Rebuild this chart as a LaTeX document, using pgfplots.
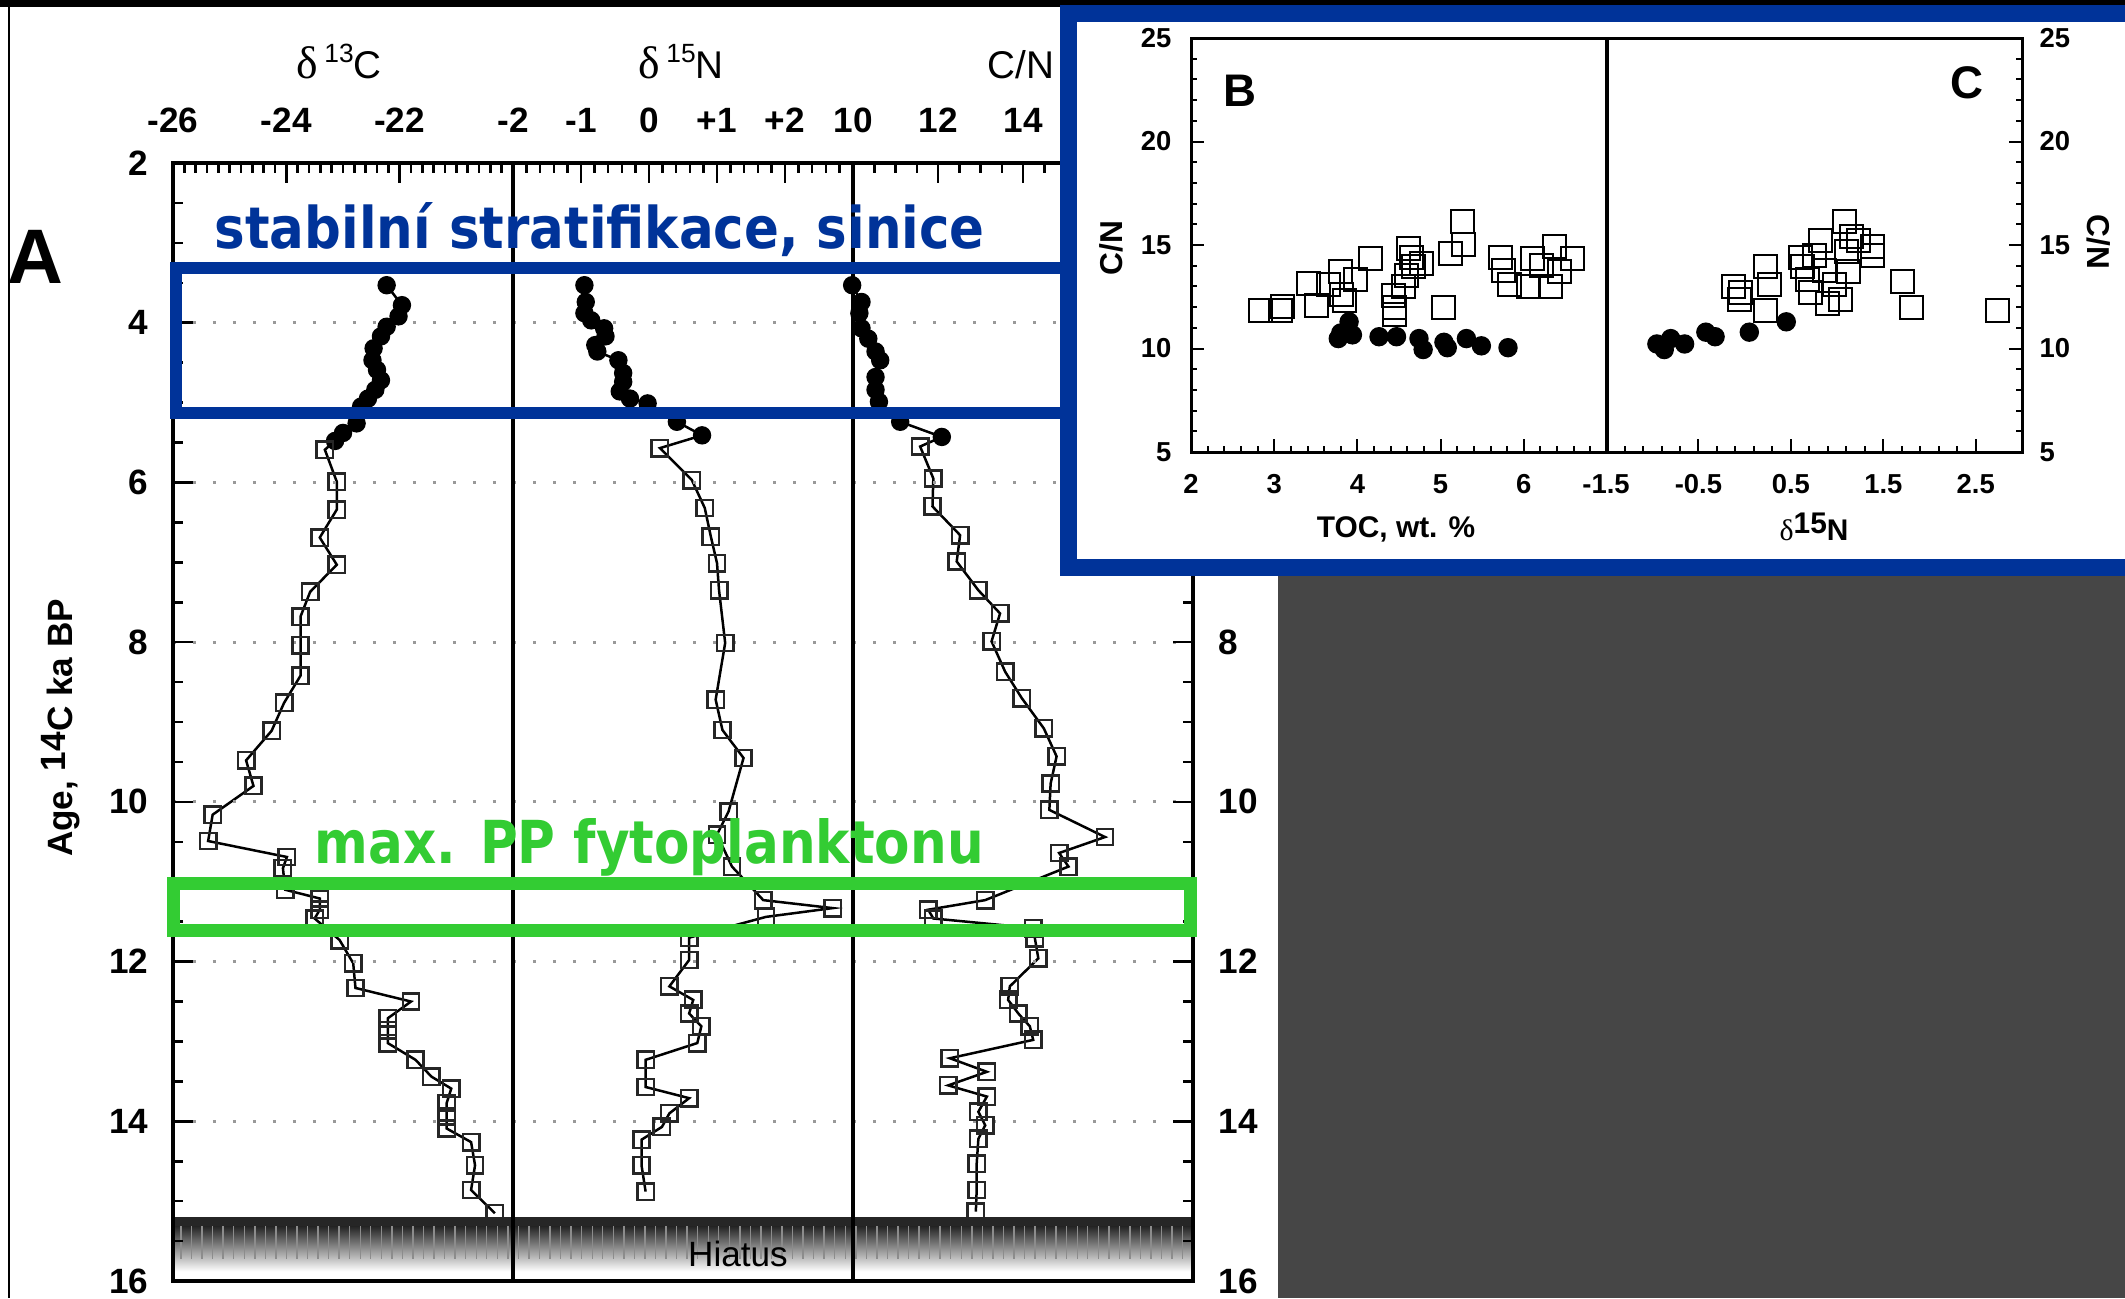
\documentclass[border=0pt]{standalone}
\usepackage{fontspec}
\setmainfont{Liberation Sans}
\newfontfamily\seriffont{Liberation Serif}
\newfontfamily\annfont{DejaVu Sans}
\usepackage{graphicx}
\usepackage{pgfplots}
\usetikzlibrary{patterns}
\pgfplotsset{compat=1.18}
\definecolor{ablue}{RGB}{0,51,153}
\definecolor{agreen}{RGB}{51,204,51}
\definecolor{dgray}{RGB}{70,70,70}
\newcommand{\tlA}{\fontsize{10}{12}\selectfont\bfseries}
\newcommand{\tlB}{\fontsize{7.8}{9}\selectfont\bfseries}
\pgfplotsset{
  panelA/.style={
    scale only axis, width=34mm, height=111.8mm, anchor=center,
    ymin=2, ymax=16, y dir=reverse, clip=false, axis on top,
    axis line style={line width=0.35mm, black},
    tick align=inside,
    xtick pos=right, xticklabel pos=right,
    major tick length=2mm, minor tick length=1mm,
    tick style={black, line width=0.25mm},
    ytick={2,4,...,16}, minor y tick num=3,
    ymajorgrids,
    grid style={black!40, line width=0.3mm, dash pattern=on 0.3mm off 1.7mm},
    xticklabel style={font=\tlA, inner sep=0pt},
    yticklabel style={font=\tlA, inner sep=0pt},
    xticklabel shift=2.95mm, yticklabel shift=2.4mm,
    /pgf/number format/assume math mode=true,
  },
  lineA/.style={black, line width=0.25mm, mark=none},
  circA/.style={only marks, mark=*, mark size=0.85mm, black},
  sqA/.style={only marks, mark=square, mark size=0.82mm, mark options={draw=black!85, line width=0.25mm}},
  panelB/.style={
    scale only axis, width=41.6mm, height=41.4mm, anchor=center,
    ymin=5, ymax=25, ytick={5,10,...,25}, minor y tick num=4,
    axis line style={line width=0.3mm, black},
    tick align=inside, xtick pos=left,
    major tick length=1.3mm, minor tick length=0.6mm,
    tick style={black, line width=0.2mm},
    xticklabel style={font=\tlB, inner sep=0pt},
    yticklabel style={font=\tlB, inner sep=0pt},
    xticklabel shift=2.2mm, yticklabel shift=1.9mm,
    /pgf/number format/assume math mode=true,
    clip=false,
  },
  sqB/.style={only marks, mark=square, mark size=1.15mm, mark options={draw=black, line width=0.2mm}},
  circB/.style={only marks, mark=*, mark size=0.9mm, black},
}
\newcommand{\hiatus}[2]{%
  \fill[black!85] (axis cs:#1,15.2) rectangle (axis cs:#2,15.32);
  \shade[top color=black!85, bottom color=white] (axis cs:#1,15.32) rectangle (axis cs:#2,15.88);
  \fill[pattern=vertical lines, pattern color=black!45] (axis cs:#1,15.32) rectangle (axis cs:#2,15.72);
}
\begin{document}
\begin{tikzpicture}
\useasboundingbox (0mm,0mm) rectangle (212.5mm,-129.8mm);
\fill[white] (0mm,0mm) rectangle (212.5mm,-129.8mm);
\fill[black] (0mm,0mm) rectangle (212.5mm,-0.7mm);
\draw[line width=0.2mm] (0.9mm,-0.7mm) -- (0.9mm,-129.8mm);

% ---- Panel A: delta 13C
\begin{axis}[panelA, at={(34.3mm,-72.2mm)}, xmin=-26, xmax=-20,
  xtick={-26,-24,-22,-20}, xticklabels={-26,-24,-22,}, minor x tick num=9,
  ytick pos=left]
\hiatus{-26}{-20}
\addplot[lineA] coordinates {(-22.23,3.53) (-21.96,3.78) (-22.02,3.92) (-22.23,4.05) (-22.33,4.17) (-22.46,4.32) (-22.48,4.47) (-22.40,4.59) (-22.33,4.72) (-22.43,4.84) (-22.56,4.95) (-22.68,5.05) (-22.76,5.26) (-23.00,5.38) (-23.14,5.48)
 (-23.32,5.59) (-23.11,5.99) (-23.11,6.34) (-23.41,6.69) (-23.11,7.03) (-23.58,7.37) (-23.75,7.68) (-23.75,8.04) (-23.75,8.42) (-24.04,8.76) (-24.26,9.11) (-24.71,9.48) (-24.58,9.80) (-25.30,10.16) (-25.38,10.49) (-23.99,10.69) (-24.06,10.83) (-24.02,11.10) (-23.41,11.21) (-23.41,11.35) (-23.50,11.46) (-23.06,11.73) (-22.82,12.02) (-22.78,12.33) (-21.80,12.50) (-22.21,12.71) (-22.21,12.86) (-22.21,13.02) (-21.72,13.23) (-21.44,13.44) (-21.09,13.59) (-21.17,13.77) (-21.17,13.94) (-21.17,14.09) (-20.74,14.26) (-20.67,14.55) (-20.74,14.86) (-20.32,15.15)};
\addplot[circA] coordinates {(-22.23,3.53) (-21.96,3.78) (-22.02,3.92) (-22.23,4.05) (-22.33,4.17) (-22.46,4.32) (-22.48,4.47) (-22.40,4.59) (-22.33,4.72) (-22.43,4.84) (-22.56,4.95) (-22.68,5.05) (-22.76,5.26) (-23.00,5.38) (-23.14,5.48)};
\addplot[sqA] coordinates {(-23.32,5.59) (-23.11,5.99) (-23.11,6.34) (-23.41,6.69) (-23.11,7.03) (-23.58,7.37) (-23.75,7.68) (-23.75,8.04) (-23.75,8.42) (-24.04,8.76) (-24.26,9.11) (-24.71,9.48) (-24.58,9.80) (-25.30,10.16) (-25.38,10.49) (-23.99,10.69) (-24.06,10.83) (-24.02,11.10) (-23.41,11.21) (-23.41,11.35) (-23.50,11.46) (-23.06,11.73) (-22.82,12.02) (-22.78,12.33) (-21.80,12.50) (-22.21,12.71) (-22.21,12.86) (-22.21,13.02) (-21.72,13.23) (-21.44,13.44) (-21.09,13.59) (-21.17,13.77) (-21.17,13.94) (-21.17,14.09) (-20.74,14.26) (-20.67,14.55) (-20.74,14.86) (-20.32,15.15)};
\end{axis}

% ---- Panel A: delta 15N
\begin{axis}[panelA, at={(68.3mm,-72.2mm)}, xmin=-2, xmax=3,
  xtick={-2,-1,0,1,2,3}, xticklabels={-2,-1,0,+1,+2,}, minor x tick num=4,
  yticklabels={}, minor y tick num=0, ytick style={draw=none}]
\hiatus{-2}{3}
\addplot[lineA] coordinates {(-0.95,3.53) (-0.93,3.74) (-0.95,3.88) (-0.85,3.97) (-0.66,4.07) (-0.64,4.17) (-0.79,4.28) (-0.76,4.36) (-0.45,4.47) (-0.38,4.63) (-0.38,4.74) (-0.43,4.86) (-0.28,4.95) (-0.02,5.01) (0.41,5.24) (0.78,5.41)
 (0.16,5.57) (0.63,5.97) (0.82,6.32) (0.91,6.68) (1.00,7.01) (1.03,7.35) (1.12,8.01) (0.98,8.72) (1.08,9.10) (1.39,9.45) (1.17,10.12) (1.00,10.41) (1.22,10.81) (1.68,11.23) (2.70,11.33) (1.72,11.44) (0.59,11.70) (0.59,11.98) (0.30,12.31) (0.65,12.48) (0.59,12.65) (0.77,12.81) (0.71,13.02) (-0.05,13.23) (-0.05,13.57) (0.59,13.71) (0.30,13.90) (0.19,14.07) (-0.11,14.23) (-0.11,14.55) (-0.05,14.88)};
\addplot[circA] coordinates {(-0.95,3.53) (-0.93,3.74) (-0.95,3.88) (-0.85,3.97) (-0.66,4.07) (-0.64,4.17) (-0.79,4.28) (-0.76,4.36) (-0.45,4.47) (-0.38,4.63) (-0.38,4.74) (-0.43,4.86) (-0.28,4.95) (-0.02,5.01) (0.41,5.24) (0.78,5.41)};
\addplot[sqA] coordinates {(0.16,5.57) (0.63,5.97) (0.82,6.32) (0.91,6.68) (1.00,7.01) (1.03,7.35) (1.12,8.01) (0.98,8.72) (1.08,9.10) (1.39,9.45) (1.17,10.12) (1.00,10.41) (1.22,10.81) (1.68,11.23) (2.70,11.33) (1.72,11.44) (0.59,11.70) (0.59,11.98) (0.30,12.31) (0.65,12.48) (0.59,12.65) (0.77,12.81) (0.71,13.02) (-0.05,13.23) (-0.05,13.57) (0.59,13.71) (0.30,13.90) (0.19,14.07) (-0.11,14.23) (-0.11,14.55) (-0.05,14.88)};
\end{axis}

% ---- Panel A: C/N
\begin{axis}[panelA, at={(102.3mm,-72.2mm)}, xmin=10, xmax=18,
  xtick={10,12,14,16,18}, xticklabels={10,12,14,16,}, minor x tick num=3,
  ytick pos=right, yticklabel pos=right, yticklabel shift=2.5mm]
\hiatus{10}{18}
\addplot[lineA] coordinates {(9.98,3.53) (10.20,3.74) (10.15,3.88) (10.20,4.07) (10.36,4.20) (10.53,4.36) (10.64,4.47) (10.53,4.68) (10.53,4.84) (10.61,4.99) (11.11,5.24) (12.09,5.43)
 (11.58,5.55) (11.89,5.95) (11.87,6.30) (12.52,6.66) (12.44,6.99) (12.95,7.35) (13.46,7.64) (13.26,7.99) (13.58,8.37) (13.97,8.70) (14.49,9.08) (14.79,9.43) (14.65,9.77) (14.62,10.10) (15.93,10.44) (14.85,10.64) (15.07,10.81) (13.11,11.23) (11.77,11.35) (11.89,11.46) (14.24,11.58) (14.28,11.71) (14.36,11.96) (13.69,12.31) (13.65,12.48) (13.89,12.65) (14.16,12.81) (14.24,12.98) (12.28,13.21) (13.15,13.38) (12.24,13.55) (13.15,13.69) (12.95,13.88) (13.11,14.05) (12.95,14.22) (12.91,14.53) (12.91,14.86) (12.89,15.13)};
\addplot[circA] coordinates {(9.98,3.53) (10.20,3.74) (10.15,3.88) (10.20,4.07) (10.36,4.20) (10.53,4.36) (10.64,4.47) (10.53,4.68) (10.53,4.84) (10.61,4.99) (11.11,5.24) (12.09,5.43)};
\addplot[sqA] coordinates {(11.58,5.55) (11.89,5.95) (11.87,6.30) (12.52,6.66) (12.44,6.99) (12.95,7.35) (13.46,7.64) (13.26,7.99) (13.58,8.37) (13.97,8.70) (14.49,9.08) (14.79,9.43) (14.65,9.77) (14.62,10.10) (15.93,10.44) (14.85,10.64) (15.07,10.81) (13.11,11.23) (11.77,11.35) (11.89,11.46) (14.24,11.58) (14.28,11.71) (14.36,11.96) (13.69,12.31) (13.65,12.48) (13.89,12.65) (14.16,12.81) (14.24,12.98) (12.28,13.21) (13.15,13.38) (12.24,13.55) (13.15,13.69) (12.95,13.88) (13.11,14.05) (12.95,14.22) (12.91,14.53) (12.91,14.86) (12.89,15.13)};
\end{axis}

% titles and labels of panel A
\node[anchor=base, font=\fontsize{11}{13}\selectfont] at (33.9mm,-7.8mm) {{\seriffont\fontsize{13}{13}\selectfont δ}\,\raisebox{1.6mm}{\fontsize{7.5}{9}\selectfont 13}C};
\node[anchor=base, font=\fontsize{11}{13}\selectfont] at (68.1mm,-7.8mm) {{\seriffont\fontsize{13}{13}\selectfont δ}\,\raisebox{1.6mm}{\fontsize{7.5}{9}\selectfont 15}N};
\node[anchor=base, font=\fontsize{11}{13}\selectfont] at (102.1mm,-7.8mm) {C/N};
\node[font=\fontsize{22}{24}\selectfont\bfseries] at (3.5mm,-25.7mm) {A};
\node[rotate=90, font=\fontsize{10}{12}\selectfont\bfseries] at (6.1mm,-72.8mm) {Age, \raisebox{0.7mm}{14}C ka BP};
\node[font=\fontsize{10}{12}\selectfont] at (73.8mm,-125.4mm) {Hiatus};

% annotations
\node[anchor=base west, inner sep=0pt, text=ablue] at (21.4mm,-24.8mm) {\resizebox{77mm}{4.6mm}{\annfont\bfseries stabilní stratifikace, sinice}};
\draw[ablue, line width=1.25mm] (17.6mm,-26.8mm) rectangle (106.8mm,-41.3mm);
\node[anchor=base west, inner sep=0pt, text=agreen] at (31.4mm,-86.3mm) {\resizebox{66.9mm}{4.5mm}{\annfont\bfseries max. PP fytoplanktonu}};
\draw[agreen, line width=1.3mm] (17.3mm,-88.35mm) rectangle (119mm,-93.05mm);

% dark area and inset frame
\fill[dgray] (127.8mm,-56mm) rectangle (212.5mm,-129.8mm);
\fill[white] (106.8mm,-1.3mm) rectangle (215mm,-56.7mm);
\draw[ablue, line width=1.7mm] (106.8mm,-1.3mm) rectangle (215mm,-56.7mm);

% ---- Panel B
\begin{axis}[panelB, at={(139.9mm,-24.5mm)}, xmin=2, xmax=7,
  xtick={2,3,4,5,6,7}, xticklabels={2,3,4,5,6,}, minor x tick num=4,
  ytick pos=left]
\addplot[sqB] coordinates {(2.83,11.86) (3.08,11.83) (3.10,12.05) (3.41,13.16) (3.51,12.09) (3.65,13.08) (3.80,13.70) (3.81,12.63) (3.84,12.32) (3.98,13.34) (4.16,14.36) (4.43,12.54) (4.44,12.00) (4.44,11.65) (4.55,12.99) (4.59,13.52) (4.61,14.83) (4.65,14.42) (4.67,13.97) (4.77,14.11) (5.04,12.00) (5.12,14.59) (5.26,16.12) (5.28,15.04) (5.72,14.42) (5.75,13.79) (5.83,13.08) (6.06,12.99) (6.10,14.33) (6.21,14.00) (6.32,12.99) (6.37,14.95) (6.43,13.70) (6.59,14.36)};
\addplot[circB] coordinates {(3.77,10.48) (3.90,11.29) (3.94,10.66) (3.80,10.75) (4.26,10.57) (4.47,10.57) (4.74,10.48) (4.79,9.95) (5.04,10.30) (5.08,10.04) (5.31,10.48) (5.49,10.13) (5.81,10.04)};
\end{axis}

% ---- Panel C
\begin{axis}[panelB, at={(181.4mm,-24.5mm)}, xmin=-1.5, xmax=3,
  xtick={-1.5,-0.5,0.5,1.5,2.5}, xticklabels={-1.5,-0.5,0.5,1.5,2.5}, minor x tick num=4,
  ytick pos=right, yticklabel pos=right, yticklabel shift=1.7mm]
\addplot[sqB] coordinates {(-0.12,12.99) (-0.05,12.72) (-0.06,12.36) (0.23,13.97) (0.27,13.08) (0.22,11.83) (0.60,14.42) (0.62,13.97) (0.68,13.34) (0.71,12.72) (0.75,14.51) (0.82,15.22) (0.86,13.79) (0.90,12.18) (0.97,13.08) (1.04,12.36) (1.08,16.12) (1.10,14.69) (1.16,15.40) (1.23,15.22) (1.38,14.95) (1.38,14.51) (1.71,13.25) (1.80,12.00) (2.74,11.86) (1.12,13.70)};
\addplot[circB] coordinates {(-0.95,10.22) (-0.87,9.95) (-0.80,10.48) (-0.65,10.22) (-0.42,10.79) (-0.32,10.57) (0.05,10.79) (0.45,11.29)};
\end{axis}

% inset labels
\node[font=\fontsize{8.5}{10}\selectfont\bfseries] at (139.6mm,-52.9mm) {TOC, wt. \%};
\node[font=\fontsize{8.5}{10}\selectfont\bfseries] at (181.4mm,-52.7mm) {{\seriffont\mdseries δ}\raisebox{0.7mm}{15}N};
\node[rotate=90, font=\fontsize{9}{10}\selectfont\bfseries] at (111.1mm,-24.8mm) {C/N};
\node[rotate=-90, font=\fontsize{9}{10}\selectfont\bfseries] at (209.9mm,-24.2mm) {C/N};
\node[font=\fontsize{13}{15}\selectfont\bfseries] at (124mm,-9.1mm) {B};
\node[font=\fontsize{13}{15}\selectfont\bfseries] at (196.7mm,-8.3mm) {C};
\end{tikzpicture}
\end{document}
